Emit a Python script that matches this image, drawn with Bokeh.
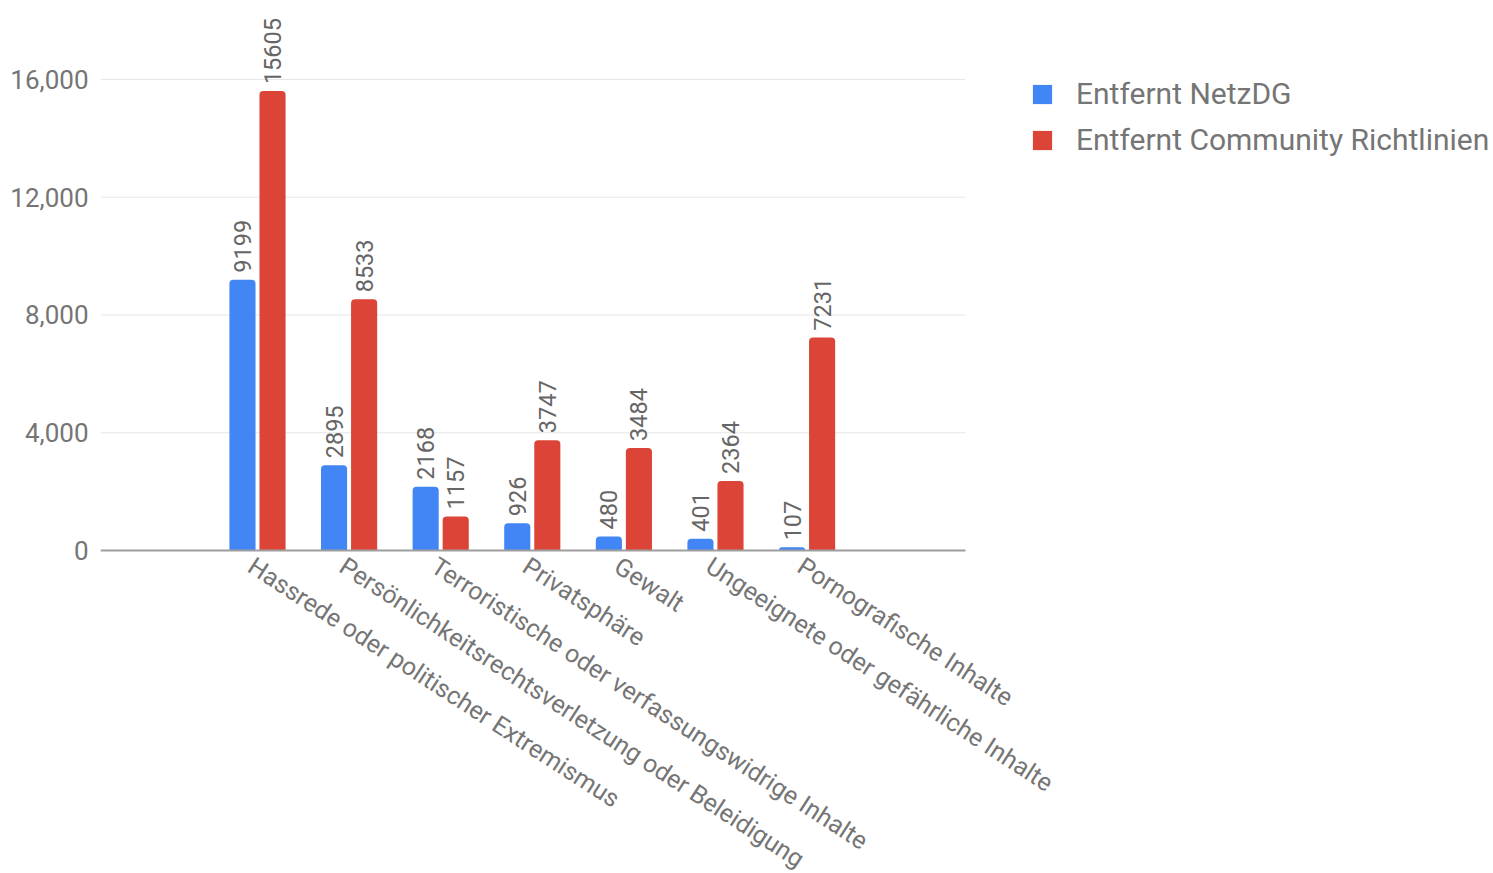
import math
from bokeh.plotting import figure
from bokeh.models import (ColumnDataSource, Range1d, FixedTicker, LinearAxis,
                          NumeralTickFormatter, Legend, LegendItem, LabelSet)
from bokeh.core.properties import value
from bokeh.embed import file_html
from bokeh.resources import INLINE

categories = ["Hassrede oder politischer Extremismus",
              "Persönlichkeitsrechtsverletzung oder Beleidigung",
              "Terroristische oder verfassungswidrige Inhalte",
              "Privatsphäre",
              "Gewalt",
              "Ungeeignete oder gefährliche Inhalte",
              "Pornografische Inhalte"]
entfernt_netzdg = [9199, 2895, 2168, 926, 480, 401, 107]
entfernt_community = [15605, 8533, 1157, 3747, 3484, 2364, 7231]
series_names = ["Entfernt NetzDG", "Entfernt Community Richtlinien"]
y_ticks = [0, 4000, 8000, 12000, 16000]

BLUE = "#4285F4"
RED = "#DB4437"
FONT = "Roboto"
TXT = "#757575"

idx = list(range(len(categories)))
off = 0.164
w = 0.285
src = ColumnDataSource(dict(
    cat=categories,
    idx=idx,
    xa=[i - off for i in idx],
    xb=[i + off for i in idx],
    zero=[0] * len(categories),
    a=entfernt_netzdg,
    b=entfernt_community,
    a_txt=[str(v) for v in entfernt_netzdg],
    b_txt=[str(v) for v in entfernt_community],
))

# layout of the chart area (in axis units)
X_LO, X_HI, X_END = -1.714, 7.729, 13.494
Y_LO, Y_HI = -10971, 18682

p = figure(width=1493, height=873, output_backend="svg", toolbar_location=None,
           x_range=Range1d(X_LO, X_END), y_range=Range1d(Y_LO, Y_HI),
           x_axis_location=None,
           min_border_left=100, min_border_top=0, min_border_right=0,
           min_border_bottom=0)
p.outline_line_color = None
p.background_fill_color = "white"
p.border_fill_color = "white"
p.xgrid.grid_line_color = None
p.ygrid.grid_line_color = None

# horizontal gridlines limited to the chart area
grid_src = ColumnDataSource(dict(y=y_ticks[1:], x0=[X_LO] * 4, x1=[X_HI] * 4))
p.segment(x0="x0", x1="x1", y0="y", y1="y", source=grid_src,
          line_color="#E6E6E6", line_width=1)

r1 = p.vbar(x="xa", top="a", width=w, source=src,
            fill_color=BLUE, line_color=None, border_radius=(4, 4, 0, 0))
r2 = p.vbar(x="xb", top="b", width=w, source=src,
            fill_color=RED, line_color=None, border_radius=(4, 4, 0, 0))

for col, xc in (("a", "xa"), ("b", "xb")):
    p.add_layout(LabelSet(x=xc, y=col, text=col + "_txt",
                          source=src, angle=math.pi / 2, text_align="left",
                          text_baseline="middle", y_offset=7,
                          text_font=value(FONT), text_font_size="23.5px",
                          text_color="#666666"))

# rotated category labels
p.add_layout(LabelSet(x="idx", y="zero", text="cat", source=src, angle=-0.575,
                      text_align="left", text_baseline="top", x_offset=1,
                      y_offset=-1, text_font=value(FONT), text_font_size="25px",
                      text_color=TXT))

# baseline axis at y = 0
xaxis = LinearAxis(fixed_location=0, bounds=(X_LO, X_HI),
                   ticker=FixedTicker(ticks=[]))
xaxis.axis_line_color = "#9E9E9E"
xaxis.axis_line_width = 2
xaxis.major_tick_line_color = None
xaxis.minor_tick_line_color = None
xaxis.major_label_standoff = 0
xaxis.major_tick_out = 0
xaxis.minor_tick_out = 0
xaxis.major_label_text_font_size = "0px"
p.add_layout(xaxis, "below")

p.yaxis.ticker = FixedTicker(ticks=y_ticks)
p.yaxis.formatter = NumeralTickFormatter(format="0,0")
p.yaxis.axis_line_color = None
p.yaxis.major_tick_line_color = None
p.yaxis.minor_tick_line_color = None
p.yaxis.major_label_text_font = FONT
p.yaxis.major_label_text_font_size = "26px"
p.yaxis.major_label_text_color = TXT
p.yaxis.major_label_standoff = 6

legend = Legend(items=[LegendItem(label=series_names[0], renderers=[r1]),
                       LegendItem(label=series_names[1], renderers=[r2])],
                location=(930, 716))
legend.border_line_color = None
legend.background_fill_alpha = 0
legend.padding = 0
legend.margin = 0
legend.glyph_width = 24
legend.glyph_height = 24
legend.label_standoff = 22
legend.spacing = 11
legend.label_text_font = FONT
legend.label_text_font_size = "30px"
legend.label_text_color = TXT
p.add_layout(legend, "center")

open("out.html", "w").write(file_html(p, INLINE))
